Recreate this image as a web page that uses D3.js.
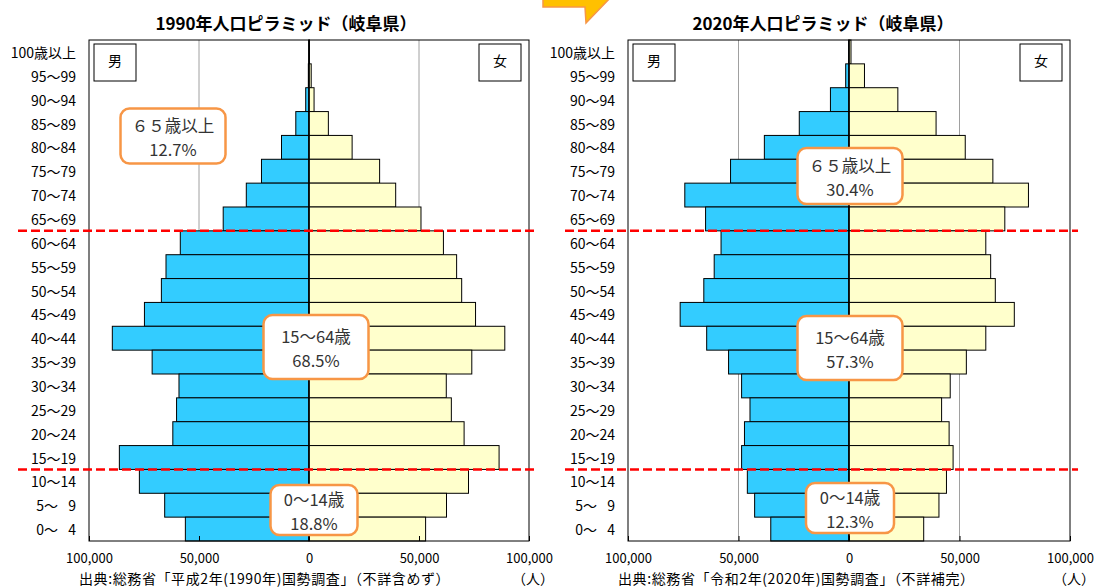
<!DOCTYPE html>
<html>
<head>
<meta charset="utf-8">
<script src="https://cdn.jsdelivr.net/npm/d3@7"></script>
<style>
  body { margin: 0; background: #fff; }
  svg { display: block; font-family: "Noto Sans CJK JP", sans-serif; }
</style>
</head>
<body>
<div id="chart"></div>
<script>
var svgWidth = 1096;
var svgHeight = 588;

// age groups, top row first
var ageGroups = ["100歳以上", "95～99", "90～94", "85～89", "80～84", "75～79", "70～74",
  "65～69", "60～64", "55～59", "50～54", "45～49", "40～44", "35～39", "30～34",
  "25～29", "20～24", "15～19", "10～14", "5～\u2002 9", "0～\u2002 4"];

// population (persons), same order as ageGroups
var male1990 = [50, 300, 1500, 6000, 12500, 21600, 28500, 39000, 58500, 65000, 67100,
  74800, 89400, 71300, 59100, 60200, 61900, 86200, 77100, 65600, 56200];
var female1990 = [200, 1000, 2300, 8800, 19600, 32100, 39400, 50900, 61100, 67100, 69400,
  75700, 89000, 74000, 62400, 64700, 70500, 86400, 72500, 62500, 53000];
var male2020 = [150, 1500, 8400, 22500, 38300, 53600, 74300, 64900, 57900, 61000, 65700,
  76400, 64400, 54500, 48600, 44800, 47300, 48600, 46000, 42700, 35400];
var female2020 = [900, 7000, 22100, 39400, 52600, 65100, 81200, 70500, 61900, 64100, 66200,
  74800, 61900, 53100, 45800, 41900, 45300, 47100, 44100, 40700, 33800];

var tickValues = [-100000, -50000, 0, 50000, 100000];
var noteLabels = ["６５歳以上", "15～64歳", "0～14歳"];
var notes1990 = ["12.7%", "68.5%", "18.8%"];
var notes2020 = ["30.4%", "57.3%", "12.3%"];
// group boundaries where the red dashed lines go (top of these rows)
var splitRows = ["60～64", "10～14"];

var svg = d3.select("#chart")
  .append("svg")
  .attr("width", svgWidth)
  .attr("height", svgHeight);

// arrow piece at the top between the charts
svg.append("path")
  .attr("d", "M543,-4 L543,7 L585,7 L586,23 L612,-4 Z")
  .attr("fill", "#FFC000")
  .attr("stroke", "#F79646")
  .attr("stroke-width", 1.5);

function drawPyramid(cfg) {
  var x = d3.scaleLinear()
    .domain([-100000, 100000])
    .range([cfg.left, cfg.right]);

  var y = d3.scaleBand()
    .domain(ageGroups)
    .range([cfg.top, cfg.bottom])
    .padding(0);

  var g = svg.append("g");

  // title
  g.append("text")
    .attr("x", cfg.titleX)
    .attr("y", 22)
    .attr("text-anchor", "middle")
    .attr("dominant-baseline", "central")
    .attr("font-size", "17px")
    .attr("font-weight", "bold")
    .attr("fill", "#000")
    .text(cfg.title);

  // grid lines at +-50,000
  g.selectAll(".grid")
    .data([-50000, 50000])
    .enter()
    .append("line")
    .attr("x1", d => x(d))
    .attr("x2", d => x(d))
    .attr("y1", cfg.top)
    .attr("y2", cfg.bottom)
    .attr("stroke", "#a0a0a0")
    .attr("stroke-width", 1);

  // male bars
  g.selectAll(".male")
    .data(cfg.male)
    .enter()
    .append("rect")
    .attr("x", d => x(-d))
    .attr("y", (d, i) => y(ageGroups[i]))
    .attr("width", d => x(0) - x(-d))
    .attr("height", y.bandwidth())
    .attr("fill", "#33CCFF")
    .attr("stroke", "#000")
    .attr("stroke-width", 1);

  // female bars
  g.selectAll(".female")
    .data(cfg.female)
    .enter()
    .append("rect")
    .attr("x", x(0))
    .attr("y", (d, i) => y(ageGroups[i]))
    .attr("width", d => x(d) - x(0))
    .attr("height", y.bandwidth())
    .attr("fill", "#FFFFCC")
    .attr("stroke", "#000")
    .attr("stroke-width", 1);

  // centre line
  g.append("line")
    .attr("x1", x(0)).attr("x2", x(0))
    .attr("y1", cfg.top).attr("y2", cfg.bottom)
    .attr("stroke", "#000")
    .attr("stroke-width", 1.5);

  // frame
  g.append("rect")
    .attr("x", cfg.left)
    .attr("y", cfg.top)
    .attr("width", cfg.right - cfg.left)
    .attr("height", cfg.bottom - cfg.top)
    .attr("fill", "none")
    .attr("stroke", "#000")
    .attr("stroke-width", 1);

  // bottom axis
  var bottomAxis = d3.axisBottom(x)
    .tickValues(tickValues)
    .tickSizeInner(-5)
    .tickSizeOuter(0)
    .tickPadding(13)
    .tickFormat(d => d3.format(",")(Math.abs(d)));

  var xAxis = g.append("g")
    .attr("transform", `translate(0, ${cfg.bottom})`)
    .call(bottomAxis);
  xAxis.select(".domain").remove();
  xAxis.selectAll("line").attr("stroke", "#000");
  xAxis.selectAll("text")
    .attr("font-size", "13px")
    .attr("font-family", "\"Noto Sans CJK JP\", sans-serif")
    .attr("fill", "#000");

  // age labels
  g.selectAll(".age")
    .data(ageGroups)
    .enter()
    .append("text")
    .attr("x", cfg.left - 13)
    .attr("y", d => y(d) + y.bandwidth() / 2)
    .attr("text-anchor", "end")
    .attr("dominant-baseline", "central")
    .attr("font-size", "14px")
    .attr("fill", "#000")
    .style("white-space", "pre")
    .text(d => d);

  // red dashed split lines
  g.selectAll(".split")
    .data(splitRows)
    .enter()
    .append("line")
    .attr("x1", cfg.dashFrom)
    .attr("x2", cfg.right + 8)
    .attr("y1", d => y(d))
    .attr("y2", d => y(d))
    .attr("stroke", "#FF0000")
    .attr("stroke-width", 2.5)
    .attr("stroke-dasharray", "9,4");

  // 男 / 女 boxes
  var sexBoxes = [
    { label: "男", x: cfg.left + 5 },
    { label: "女", x: cfg.right - 50 }
  ];
  sexBoxes.forEach(function(b) {
    g.append("rect")
      .attr("x", b.x).attr("y", cfg.top + 4)
      .attr("width", 42).attr("height", 37)
      .attr("fill", "#fff")
      .attr("stroke", "#000")
      .attr("stroke-width", 1);
    g.append("text")
      .attr("x", b.x + 21).attr("y", cfg.top + 20)
      .attr("text-anchor", "middle")
      .attr("dominant-baseline", "central")
      .attr("font-size", "14px")
      .attr("fill", "#000")
      .text(b.label);
  });

  // share notes, two lines in one text
  cfg.boxes.forEach(function(b, i) {
    g.append("rect")
      .attr("x", b.cx - b.w / 2)
      .attr("y", b.cy - b.h / 2)
      .attr("width", b.w)
      .attr("height", b.h)
      .attr("rx", 9)
      .attr("fill", "#fff")
      .attr("stroke", "#F79646")
      .attr("stroke-width", 2.5);
    var t = g.append("text")
      .attr("text-anchor", "middle")
      .attr("dominant-baseline", "central")
      .attr("font-size", "16.5px")
      .attr("fill", "#333");
    t.append("tspan")
      .attr("x", b.cx).attr("y", b.cy - 11)
      .text(noteLabels[i]);
    t.append("tspan")
      .attr("x", b.cx).attr("y", b.cy + 13)
      .text(cfg.notes[i]);
  });

  // source + unit
  g.append("text")
    .attr("x", cfg.left - 10)
    .attr("y", 578)
    .attr("dominant-baseline", "central")
    .attr("font-size", "14px")
    .attr("letter-spacing", "0.6px")
    .attr("fill", "#000")
    .text(cfg.source);
  g.append("text")
    .attr("x", cfg.right - 17)
    .attr("y", 578)
    .attr("dominant-baseline", "central")
    .attr("font-size", "14px")
    .attr("fill", "#000")
    .text("（人）");
}

drawPyramid({
  title: "1990年人口ピラミッド（岐阜県）",
  titleX: 286,
  left: 89, right: 529, top: 40, bottom: 541,
  dashFrom: 18,
  male: male1990, female: female1990,
  notes: notes1990,
  source: "出典:総務省「平成2年(1990年)国勢調査」（不詳含めず）",
  boxes: [
    { cx: 173, cy: 136, w: 105, h: 55 },
    { cx: 316, cy: 347, w: 105, h: 64 },
    { cx: 314, cy: 510, w: 87, h: 50 }
  ]
});

drawPyramid({
  title: "2020年人口ピラミッド（岐阜県）",
  titleX: 823,
  left: 628, right: 1070, top: 40, bottom: 541,
  dashFrom: 565,
  male: male2020, female: female2020,
  notes: notes2020,
  source: "出典:総務省「令和2年(2020年)国勢調査」（不詳補完）",
  boxes: [
    { cx: 850, cy: 176, w: 105, h: 56 },
    { cx: 850, cy: 348, w: 105, h: 64 },
    { cx: 850, cy: 508, w: 88, h: 50 }
  ]
});
</script>
</body>
</html>
